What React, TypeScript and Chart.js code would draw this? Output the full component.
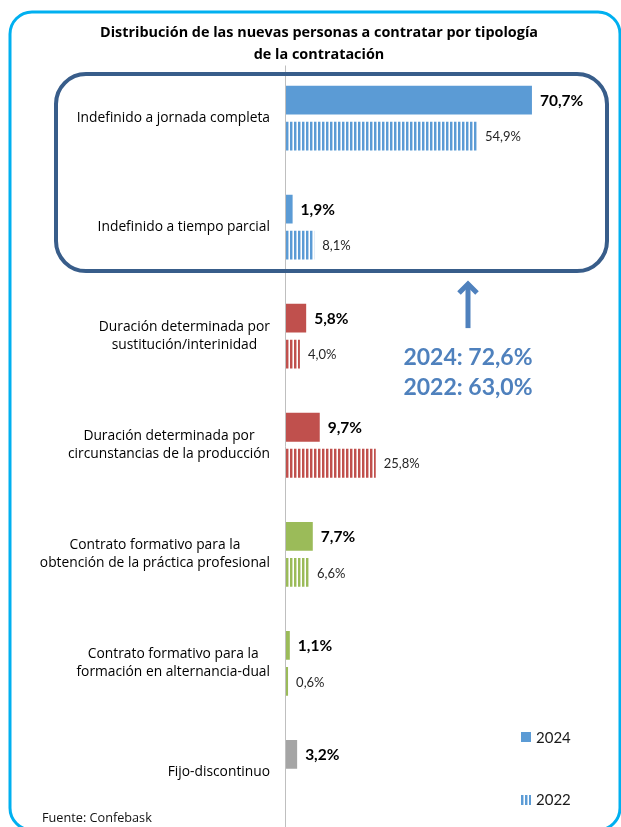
import React, { useEffect, useRef } from "react";
import { Chart, registerables } from "chart.js";

Chart.register(...registerables);

const categories: string[][] = [
  ["Indefinido a jornada completa"],
  ["Indefinido a tiempo parcial"],
  ["Duración determinada por", "sustitución/interinidad"],
  ["Duración determinada por", "circunstancias de la producción"],
  ["Contrato formativo para la", "obtención de la práctica profesional"],
  ["Contrato formativo para la", "formación en alternancia-dual"],
  ["Fijo-discontinuo"],
];
const values2024: (number | null)[] = [70.7, 1.9, 5.8, 9.7, 7.7, 1.1, 3.2];
const values2022: (number | null)[] = [54.9, 8.1, 4.0, 25.8, 6.6, 0.6, null];
const barColors = ["#5B9BD5", "#5B9BD5", "#C0504D", "#C0504D", "#9BBB59", "#9BBB59", "#A5A5A5"];
const seriesLabels = ["2024", "2022"];
const titleLines = [
  "Distribución de las nuevas personas a contratar por tipología",
  "de la contratación",
];
const groupTotals = ["2024: 72,6%", "2022: 63,0%"];
const sourceText = "Fuente: Confebask";
const xMax = 80;

const NUMFONT = "Lato, 'Open Sans', sans-serif";
const TXTFONT = "'Open Sans', Lato, sans-serif";

function stripePattern(color: string): CanvasPattern | string {
  const c = document.createElement("canvas");
  c.width = 4;
  c.height = 4;
  const g = c.getContext("2d");
  if (!g) return color;
  g.fillStyle = color;
  g.fillRect(2, 0, 2, 4);
  g.globalAlpha = 0.45;
  g.fillRect(0, 0, 1, 4);
  const p = g.createPattern(c, "repeat");
  return p || color;
}

function fmt(v: number): string {
  return v.toFixed(1).replace(".", ",") + "%";
}

function roundRect(ctx: CanvasRenderingContext2D, x: number, y: number, w: number, h: number, r: number) {
  ctx.beginPath();
  ctx.moveTo(x + r, y);
  ctx.lineTo(x + w - r, y);
  ctx.arcTo(x + w, y, x + w, y + r, r);
  ctx.lineTo(x + w, y + h - r);
  ctx.arcTo(x + w, y + h, x + w - r, y + h, r);
  ctx.lineTo(x + r, y + h);
  ctx.arcTo(x, y + h, x, y + h - r, r);
  ctx.lineTo(x, y + r);
  ctx.arcTo(x, y, x + r, y, r);
  ctx.closePath();
}

const decorPlugin = {
  id: "decor",
  beforeDatasetsDraw(chart: any) {
    const { ctx, chartArea, scales } = chart;
    const x0 = scales.x.getPixelForValue(0);
    ctx.save();
    ctx.strokeStyle = "#BFBFBF";
    ctx.lineWidth = 1;
    ctx.beginPath();
    ctx.moveTo(Math.round(x0) - 0.5, chartArea.top + 2);
    ctx.lineTo(Math.round(x0) - 0.5, chartArea.bottom);
    ctx.stroke();
    ctx.restore();
  },
  afterDatasetsDraw(chart: any) {
    const { ctx, scales } = chart;
    const yScale = scales.y;
    const x0 = scales.x.getPixelForValue(0);
    ctx.save();

    // outer frame
    ctx.strokeStyle = "#00B0F0";
    ctx.lineWidth = 3;
    roundRect(ctx, 10, 12, 610, 818, 22);
    ctx.stroke();

    // title
    ctx.fillStyle = "#000000";
    ctx.font = `bold 14.4px ${TXTFONT}`;
    ctx.textAlign = "center";
    ctx.textBaseline = "middle";
    titleLines.forEach((t, i) => ctx.fillText(t, 319, 33 + i * 22));

    // category labels
    ctx.font = `13.8px ${TXTFONT}`;
    ctx.fillStyle = "#000000";
    const right = x0 - 16;
    categories.forEach((lines, i) => {
      const cy = yScale.getPixelForValue(i);
      const maxW = Math.max(...lines.map((l) => ctx.measureText(l).width));
      const cx = right - maxW / 2;
      const lh = 18;
      lines.forEach((l, j) => {
        ctx.textAlign = "center";
        ctx.fillText(l, cx, cy + (j - (lines.length - 1) / 2) * lh);
      });
    });

    // data labels
    chart.data.datasets.forEach((ds: any, di: number) => {
      const meta = chart.getDatasetMeta(di);
      meta.data.forEach((bar: any, i: number) => {
        const v = ds.data[i];
        if (v === null || v === undefined) return;
        ctx.textAlign = "left";
        ctx.textBaseline = "middle";
        if (di === 0) {
          ctx.font = `bold 15.5px ${NUMFONT}`;
          ctx.fillStyle = "#000000";
        } else {
          ctx.font = `13px ${NUMFONT}`;
          ctx.fillStyle = "#262626";
        }
        ctx.fillText(fmt(v), bar.x + 8, bar.y + 1);
      });
    });

    // highlight frame around first two categories
    const c0 = yScale.getPixelForValue(0);
    const c1 = yScale.getPixelForValue(1);
    ctx.strokeStyle = "#385D8A";
    ctx.lineWidth = 4;
    roundRect(ctx, 56, c0 - 44, 551, c1 - c0 + 88, 30);
    ctx.stroke();

    // arrow
    const ax = 468;
    const tipY = c1 + 55;
    ctx.strokeStyle = "#4F81BD";
    ctx.lineWidth = 5;
    ctx.lineJoin = "miter";
    ctx.lineCap = "butt";
    ctx.beginPath();
    ctx.moveTo(ax, tipY + 2);
    ctx.lineTo(ax, tipY + 46);
    ctx.stroke();
    ctx.beginPath();
    ctx.moveTo(ax - 9, tipY + 11);
    ctx.lineTo(ax, tipY + 2);
    ctx.lineTo(ax + 9, tipY + 11);
    ctx.stroke();

    // totals text
    ctx.fillStyle = "#4F81BD";
    ctx.font = `bold 23px ${NUMFONT}`;
    ctx.textAlign = "center";
    ctx.textBaseline = "middle";
    groupTotals.forEach((t, i) => ctx.fillText(t, ax, tipY + 75 + i * 30));

    // legend
    const lx = 521;
    ctx.fillStyle = barColors[0];
    ctx.fillRect(lx, 732, 10, 10);
    ctx.save();
    ctx.translate(lx - 2, 795);
    ctx.fillStyle = stripePattern(barColors[0]) as any;
    ctx.fillRect(2, 0, 10, 10);
    ctx.restore();
    ctx.fillStyle = "#1a1a1a";
    ctx.font = `15px ${NUMFONT}`;
    ctx.textAlign = "left";
    ctx.textBaseline = "middle";
    ctx.fillText(seriesLabels[0], 536, 738);
    ctx.fillText(seriesLabels[1], 536, 800);

    // source
    ctx.font = `12.7px ${TXTFONT}`;
    ctx.fillStyle = "#111111";
    ctx.fillText(sourceText, 42, 818);

    ctx.restore();
  },
};

export default function App() {
  const ref = useRef<HTMLCanvasElement | null>(null);
  useEffect(() => {
    if (!ref.current) return;
    const chart = new Chart(ref.current, {
      type: "bar",
      data: {
        labels: categories.map((c) => c.join(" ")),
        datasets: [
          {
            label: seriesLabels[0],
            data: values2024,
            backgroundColor: barColors,
            categoryPercentage: 0.66,
            barPercentage: 0.8,
            borderWidth: 0,
          },
          {
            label: seriesLabels[1],
            data: values2022,
            backgroundColor: barColors.map((c) => stripePattern(c)) as any,
            categoryPercentage: 0.66,
            barPercentage: 0.8,
            borderWidth: 0,
          },
        ],
      },
      options: {
        indexAxis: "y",
        responsive: false,
        animation: false,
        layout: { padding: { left: 286, right: 621 - 286 - 278.3, top: 63.5, bottom: 0 } },
        scales: {
          x: { display: false, min: 0, max: xMax },
          y: { display: false },
        },
        plugins: {
          legend: { display: false },
          tooltip: { enabled: false },
          title: { display: false },
        },
      },
      plugins: [decorPlugin],
    } as any);
    return () => chart.destroy();
  }, []);
  return (
    <div style={{ position: "absolute", left: 0, top: 0, width: 621, height: 827, background: "#fff" }}>
      <canvas ref={ref} width={621} height={827} style={{ display: "block" }} />
    </div>
  );
}
